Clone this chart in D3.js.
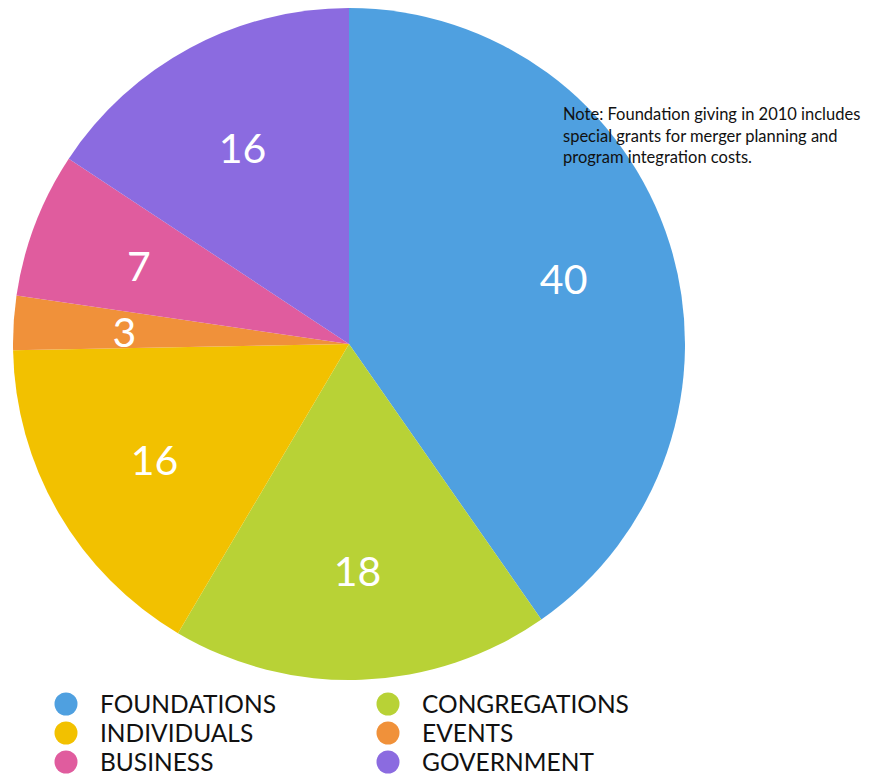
<!DOCTYPE html>
<html><head><meta charset="utf-8">
<script src="https://cdn.jsdelivr.net/npm/d3@7"></script>
<style>body{margin:0;background:#fff}svg{display:block}text{font-family:Lato,"Open Sans",sans-serif}</style>
</head><body>
<svg id="c" width="879" height="774"></svg>
<script>
const categories = ["FOUNDATIONS","CONGREGATIONS","INDIVIDUALS","EVENTS","BUSINESS","GOVERNMENT"];
const values = [40.3,18.2,16.2,2.6,7.0,15.7];
const colors = ["#4FA0E0","#B8D236","#F2C100","#F0913A","#E05C9E","#8B6BE0"];
const legendOrder = ["FOUNDATIONS","CONGREGATIONS","INDIVIDUALS","EVENTS","BUSINESS","GOVERNMENT"];
const noteLines = ["Note: Foundation giving in 2010 includes","special grants for merger planning and","program integration costs."];

const svg = d3.select("#c");
const cx = 349, cy = 344, R = 336;
const color = d3.scaleOrdinal().domain(categories).range(colors);
const data = categories.map((c,i)=>({cat:c,val:values[i]}));
const pie = d3.pie().value(d=>d.val).sort(null);
const arc = d3.arc().innerRadius(0).outerRadius(R);
const labelArc = d3.arc().innerRadius(225).outerRadius(225);
const g = svg.append("g").attr("transform",`translate(${cx},${cy})`);
const arcs = pie(data);
g.selectAll("path").data(arcs).join("path").attr("d",arc).attr("fill",d=>color(d.data.cat));
g.selectAll("text.v").data(arcs).join("text").attr("class","v")
  .attr("transform",d=>{const c=labelArc.centroid(d);return `translate(${c[0]},${c[1]+2})`;})
  .attr("text-anchor","middle").attr("dominant-baseline","central")
  .attr("fill","#fff").attr("font-size",41).text(d=>Math.round(d.data.val));

const note = svg.append("text").attr("x",563).attr("y",120).attr("font-size",16.5).attr("fill","#111");
noteLines.forEach((l,i)=>note.append("tspan").attr("x",563).attr("dy",i?21.5:0).text(l));

const lg = svg.append("g");
legendOrder.forEach((c,i)=>{
  const col = i%2, row = Math.floor(i/2);
  const x = col? 388:66, y = 704+row*29;
  lg.append("circle").attr("cx",x).attr("cy",y).attr("r",11.5).attr("fill",color(c));
  lg.append("text").attr("x",x+34).attr("y",y+8.5)
    .attr("font-size",24.5).attr("fill","#111").text(c);
});
</script>
</body></html>
